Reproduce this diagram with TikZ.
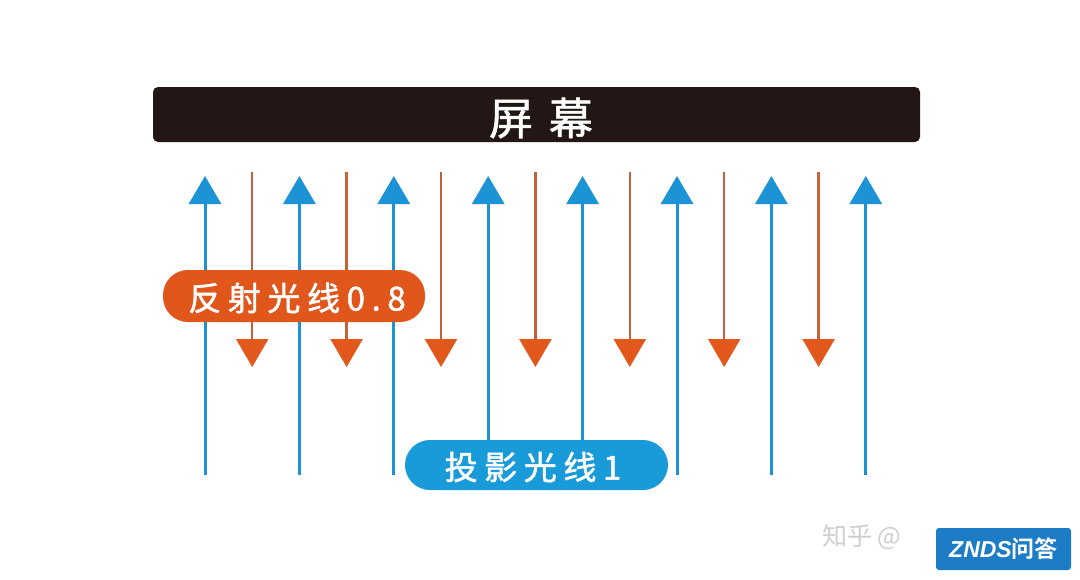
\documentclass[tikz,border=0pt]{standalone}
\usepackage{fontspec}
\usetikzlibrary{arrows.meta}
\newfontfamily\cjkbar[LetterSpace=36,FakeBold=1.2]{Noto Sans CJK SC}
\newfontfamily\cjklab[LetterSpace=20,FakeBold=1.5]{Noto Sans CJK SC}
\newfontfamily\cjkwm{Noto Sans CJK SC}
\newfontfamily\cjkbold{Noto Sans CJK SC Bold}
\newfontfamily\latbi{Liberation Sans Bold Italic}
\definecolor{barcol}{HTML}{221714}
\definecolor{bluecol}{HTML}{1B93D4}
\definecolor{bluepill}{HTML}{1A9BD9}
\definecolor{orgline}{HTML}{C4633A}
\definecolor{orghead}{HTML}{E2571C}
\definecolor{orgpill}{HTML}{E0561B}
\definecolor{wmgray}{HTML}{CFCFCF}
\definecolor{zndsblue}{HTML}{1C7CC6}
\tikzset{
  uparrow/.style={draw=bluecol, line width=3pt, -{Triangle[width=32pt,length=28pt]}},
  downarrow/.style={draw=orgline, line width=2.4pt, -{Triangle[width=32pt,length=28pt,color=orghead]}},
  pill/.style={rounded corners=25pt, minimum height=52pt, inner sep=0pt, text=white},
}
\begin{document}
\begin{tikzpicture}[x=1pt,y=-1pt]
\useasboundingbox (0,0) rectangle (1080,579);
\fill[white] (0,0) rectangle (1080,579);
% screen bar
\node[fill=barcol, rounded corners=5pt, minimum width=767pt, minimum height=55pt, inner sep=0pt, text=white] (bar) at (536.5,114.5) {};
\node[text=white, inner sep=0pt] (bartext) at (541,118) {\fontsize{44}{44}\cjkbar 屏幕};
% projected light (blue, upward)
\foreach \i/\x in {1/205,2/299.4,3/393.8,4/488.2,5/582.6,6/677,7/771.4,8/865.8}{
  \coordinate (b\i s) at (\x,475);
  \coordinate (b\i e) at (\x,176);
  \draw[uparrow] (b\i s) -- (b\i e);
}
% reflected light (orange, downward)
\foreach \i/\x in {1/252.2,2/346.6,3/441,4/535.4,5/629.8,6/724.2,7/818.6}{
  \coordinate (o\i s) at (\x,172);
  \coordinate (o\i e) at (\x,367);
  \draw[downarrow] (o\i s) -- (o\i e);
}
% labels
\node[pill, fill=orgpill, minimum width=262pt] (refl) at (294,296) {};
\node[text=white, inner sep=0pt] (refltext) at (297,298) {\fontsize{33}{33}\cjklab 反射光线0.8};
\node[pill, fill=bluepill, minimum width=263pt, minimum height=50pt] (proj) at (536.5,465) {};
\node[text=white, inner sep=0pt] (projtext) at (533,467) {\fontsize{33}{33}\cjklab 投影光线1};
% watermark
\node[text=wmgray, inner sep=0pt, anchor=west] (wm) at (822,537) {\fontsize{25}{25}\cjkwm 知乎 @};
\node[fill=zndsblue, rounded corners=3pt, minimum width=135pt, minimum height=42pt, inner sep=0pt] (znds) at (1003.5,549) {};
\node[text=white, inner sep=0pt] (zndstext) at (1003.5,549) {\fontsize{23}{23}\latbi ZNDS\cjkbold 问答};
\end{tikzpicture}
\end{document}
